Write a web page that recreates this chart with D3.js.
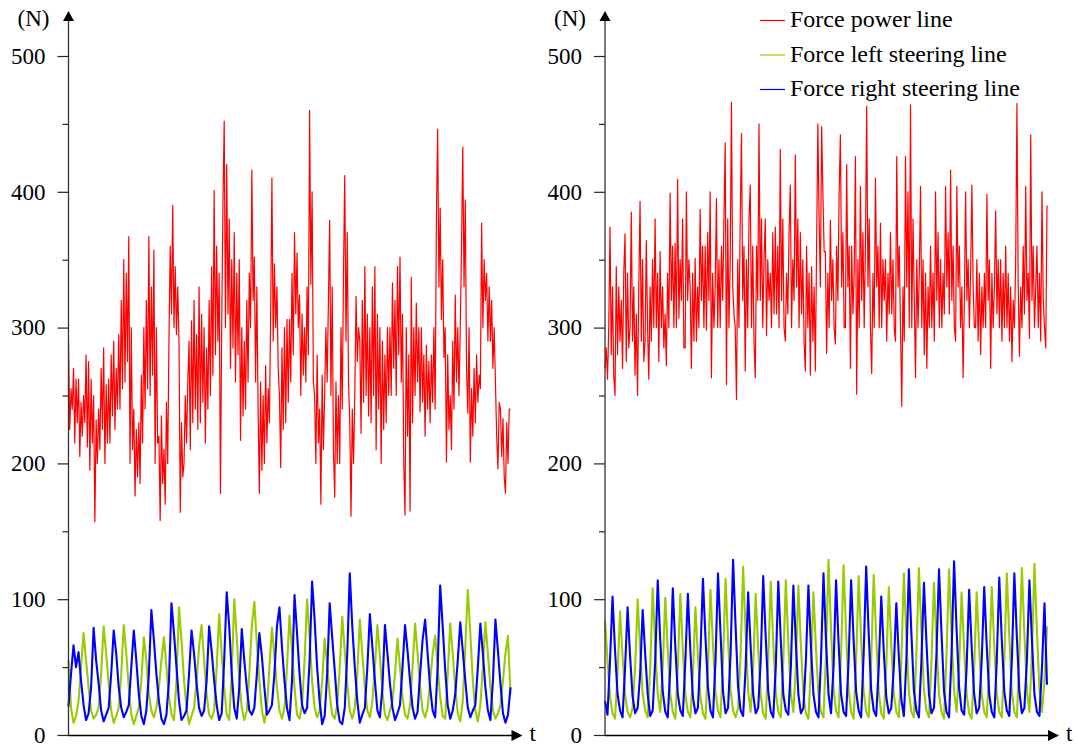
<!DOCTYPE html>
<html><head><meta charset="utf-8">
<script src="https://cdn.jsdelivr.net/npm/d3@7"></script>
<style>body{margin:0;background:#fff}svg{display:block}</style>
</head><body>
<svg id="c" width="1076" height="745"></svg>
<script>
const yTicks = [0, 100, 200, 300, 400, 500];
const yMinorTicks = [50, 150, 250, 350, 450];
const seriesNames = ["Force power line", "Force left steering line", "Force right steering line"];
const seriesColors = ["#ff0000", "#99cc00", "#0000ff"];

const leftPower = [
289,225,255,240,270,215,262,230, 262,205,245,220,250,230,280,212, 275,195,262,215,250,157,232,200,
240,210,270,225,285,200,258,215, 262,215,280,235,290,225,270,240, 295,240,320,255,350,260,340,275,
367,200,300,210,240,176,225,190, 230,185,265,215,300,240,320,255, 367,250,330,265,357,200,300,215,
220,158,235,185,210,170,245,200, 290,360,310,390,300,345,295,330, 290,164,230,190,200,250,215,260,
290,210,305,230,320,240,295,225, 330,230,310,245,300,215,285,240, 320,250,345,265,401,280,360,290,
340,178,300,390,452,300,420,310, 380,270,350,285,370,260,340,280, 350,217,300,235,290,240,320,260,
340,300,416,320,352,260,330,240, 178,260,195,250,200,272,215,255, 230,310,410,290,347,300,330,270,
250,197,285,225,300,230,306,245, 306,260,340,280,370,310,355,300, 324,250,310,265,300,260,330,280,
460,332,400,260,250,200,280,215, 240,170,265,210,250,300,260,320, 379,250,330,210,175,260,200,250,
200,300,240,340,412,290,370,260, 230,161,240,200,250,323,275,300, 290,222,320,245,345,250,310,235,
300,230,330,250,345,210,310,240, 300,200,290,225,280,230,300,250, 300,250,333,270,320,250,345,280,
352,260,310,200,162,300,220,280, 165,337,230,300,250,318,260,300, 238,300,245,280,220,287,240,275,
230,280,245,300,240,380,446,330, 388,306,350,278,300,201,280,225, 250,210,290,240,324,260,300,250,
300,360,433,330,394,270,237,300, 201,255,220,270,230,280,245,265, 255,377,300,350,320,340,290,330,
290,320,270,300,260,220,196,245, 240,205,233,190,178,230,200,240, 240];

const leftSteerL = [55,20,9,14,25,50,75,55,35,18,12,15,20,45,80,60,38,18,9,14,
20,45,81,60,35,15,8,14,20,40,72,55,30,18,13,20,35,55,72,50,
28,15,11,40,94,70,40,20,8,14,20,40,65,81,55,30,15,12,18,50,
89,60,35,15,11,45,100,72,40,20,11,18,45,80,98,68,40,18,9,20,
50,79,58,35,18,12,20,50,88,62,35,15,12,22,55,100,72,40,20,13,
18,40,71,52,30,15,12,22,50,87,62,38,18,12,20,45,85,60,35,18,
13,25,50,81,58,32,15,11,18,25,45,71,50,28,15,12,22,50,82,60,
35,18,13,20,40,60,73,50,28,14,12,45,82,60,35,16,10,25,65,107,
75,40,18,10,22,50,83,60,35,18,12,16,22,40,60,73,30];

const leftSteerR = [21,45,66,50,61,40,22,11,16,35,79,55,38,18,10,15,20,45,77,60,
35,20,13,17,22,50,77,55,30,14,8,18,45,92,70,45,25,12,8,15,
40,97,75,50,25,11,14,18,45,77,60,38,20,14,18,40,80,62,40,22,
11,16,55,105,80,45,20,12,35,78,55,35,18,15,20,45,75,58,35,15,
18,22,45,80,94,65,40,20,11,40,103,75,45,22,16,20,55,113,85,50,
25,8,14,45,97,72,48,22,10,8,20,60,119,80,50,25,9,15,20,50,
89,65,40,18,13,35,81,60,38,20,11,16,22,50,81,62,40,20,12,17,
45,70,85,60,35,18,13,50,110,80,48,22,12,18,30,55,83,62,40,20,
13,18,22,50,82,60,35,18,11,40,85,62,38,16,9,15,35];

const rightPower = [
270,285,262,300,374,280,330,265, 250,345,280,330,290,320,270,340, 369,275,340,285,300,385,290,330,
265,310,250,330,393,290,350,275, 290,364,300,262,330,290,350,300, 380,300,340,275,356,300,330,285,
310,272,340,300,399,320,360,300, 362,300,409,307,350,320,380,285, 285,400,320,350,330,270,340,290,
351,290,330,300,387,320,360,300, 360,298,370,320,400,263,340,300, 330,395,300,350,300,360,320,380,
436,258,380,300,350,466,330,310, 300,247,350,300,380,443,320,360, 268,350,300,380,405,300,360,290,
263,360,320,450,320,380,300,350, 380,294,350,320,340,300,370,310, 374,310,360,300,431,320,380,300,
290,340,310,370,405,300,350,320, 427,330,380,300,370,310,350,290, 268,360,300,340,265,345,290,330,
268,360,450,380,330,448,400,356, 356,281,340,300,379,320,350,300, 288,360,320,400,442,330,370,300,
300,420,330,360,270,360,310,340, 426,251,350,300,404,320,370,300, 360,463,330,380,300,266,340,300,
410,330,360,300,377,300,350,320, 350,290,340,310,370,310,350,300, 290,426,330,360,300,242,330,290,
426,330,400,300,464,300,380,320, 263,350,300,340,404,300,350,280, 340,270,330,300,360,300,340,290,
400,320,370,300,350,300,340,310, 404,330,370,310,416,320,360,300, 290,404,330,360,300,330,263,320,
400,320,350,300,340,405,330,300, 300,350,290,340,280,330,300,340, 300,398,320,350,270,340,300,330,
386,310,350,300,350,290,340,300, 360,300,340,290,330,275,320,300, 350,465,330,279,330,300,360,310,
404,320,340,292,442,320,360,300, 330,360,300,340,290,400,320,300, 285,390];

const rightSteerL = [84,55,28,16,12,45,91,58,30,17,13,20,50,100,62,30,18,13,50,108,
65,30,17,50,101,62,30,17,12,50,104,62,30,17,13,45,94,58,28,16,
12,50,107,66,32,18,13,55,115,70,33,18,13,20,60,124,75,32,17,50,
104,64,30,16,12,55,113,68,32,17,13,55,114,68,30,17,50,110,66,30,
16,12,50,105,64,30,17,13,60,129,78,34,18,13,60,125,76,33,17,12,
55,117,70,32,17,13,55,118,72,32,16,12,50,109,66,30,17,13,55,119,
72,32,17,13,60,123,75,33,18,13,55,112,68,30,17,12,60,122,74,32,
17,50,105,64,30,16,12,50,105,64,30,17,13,50,109,66,30,17,13,55,
119,72,32,17,13,60,123,75,33,17,60,126,76,33,17,40,80];

const rightSteerR = [25,15,55,102,62,30,18,13,50,94,58,28,16,20,45,92,60,30,14,18,
55,114,70,32,17,13,50,108,65,30,18,14,55,104,62,28,16,20,60,115,
72,35,18,13,55,119,75,32,16,20,60,129,80,35,18,14,50,105,65,30,
16,20,55,117,72,32,17,13,50,113,70,30,18,15,50,110,68,30,16,20,
55,110,65,30,17,13,55,119,70,30,16,50,114,68,30,17,14,55,114,70,
32,18,13,60,124,75,33,18,14,50,102,62,28,16,20,50,97,58,26,14,
55,122,75,33,18,13,55,112,68,30,16,20,60,122,75,32,17,13,60,128,
78,35,18,15,50,107,65,30,16,20,55,109,66,30,17,13,55,116,70,32,
18,14,55,119,72,32,16,20,55,114,70,30,17,14,50,97,37];

const panels = [
  {ax: 68.5, data: [leftPower, leftSteerL, leftSteerR]},
  {ax: 605, data: [rightPower, rightSteerL, rightSteerR]}
];

const svg = d3.select("#c");
const font = "'Liberation Serif', 'Times New Roman', serif";
const y0 = 735, yTop = 56, plotW = 442;

panels.forEach(p => {
  const g = svg.append("g");
  const y = d3.scaleLinear().domain([0, 500]).range([y0, yTop]);

  p.data.forEach((arr, k) => {
    const x = d3.scaleLinear().domain([0, arr.length - 1]).range([p.ax, p.ax + plotW]);
    const line = d3.line().x((d, i) => x(i)).y(d => y(d));
    g.append("path").datum(arr)
      .attr("d", line)
      .attr("fill", "none")
      .attr("stroke", seriesColors[k])
      .attr("stroke-width", k === 0 ? 1.2 : 2.1)
      .attr("stroke-linejoin", "round");
  });

  const major = d3.axisLeft(y).tickValues(yTicks).tickSize(11).tickPadding(12).tickFormat(d3.format("d"));
  const gy = g.append("g").attr("transform", `translate(${p.ax},0)`).call(major);
  gy.select(".domain").remove();
  gy.selectAll("line").attr("stroke", "#222").attr("stroke-width", 1.2);
  gy.selectAll("text").attr("font-family", font).attr("font-size", 23).attr("fill", "#000");

  const minor = d3.axisLeft(y).tickValues(yMinorTicks).tickSize(6).tickFormat("");
  const gm = g.append("g").attr("transform", `translate(${p.ax},0)`).call(minor);
  gm.select(".domain").remove();
  gm.selectAll("line").attr("stroke", "#222").attr("stroke-width", 1.2);

  g.append("line").attr("x1", p.ax).attr("x2", p.ax).attr("y1", y0 + 1).attr("y2", 18)
    .attr("stroke", "#333").attr("stroke-width", 1.3);
  g.append("path").attr("d", `M${p.ax},11 L${p.ax + 5.5},21 L${p.ax - 5.5},21 Z`).attr("fill", "#000");
  g.append("text").attr("x", p.ax - 35).attr("y", 26).attr("text-anchor", "middle")
    .attr("font-family", font).attr("font-size", 23).text("(N)");

  const xe = p.ax + 454;
  g.append("line").attr("x1", p.ax).attr("x2", xe - 6).attr("y1", y0 + 0.5).attr("y2", y0 + 0.5)
    .attr("stroke", "#000").attr("stroke-width", 1.3);
  g.append("path").attr("d", `M${xe},${y0 + 0.5} L${xe - 11},${y0 - 5} L${xe - 11},${y0 + 6} Z`).attr("fill", "#000");
  g.append("text").attr("x", xe + 7).attr("y", y0 + 6).attr("font-family", font).attr("font-size", 23).text("t");
});

const lg = svg.append("g");
seriesNames.forEach((name, k) => {
  const by = 27 + k * 34.5;
  lg.append("line").attr("x1", 760).attr("x2", 785).attr("y1", by - 6.5).attr("y2", by - 6.5)
    .attr("stroke", seriesColors[k]).attr("stroke-width", 1.2);
  lg.append("text").attr("x", 790).attr("y", by).attr("font-family", font).attr("font-size", 24).text(name);
});
</script>
</body></html>
